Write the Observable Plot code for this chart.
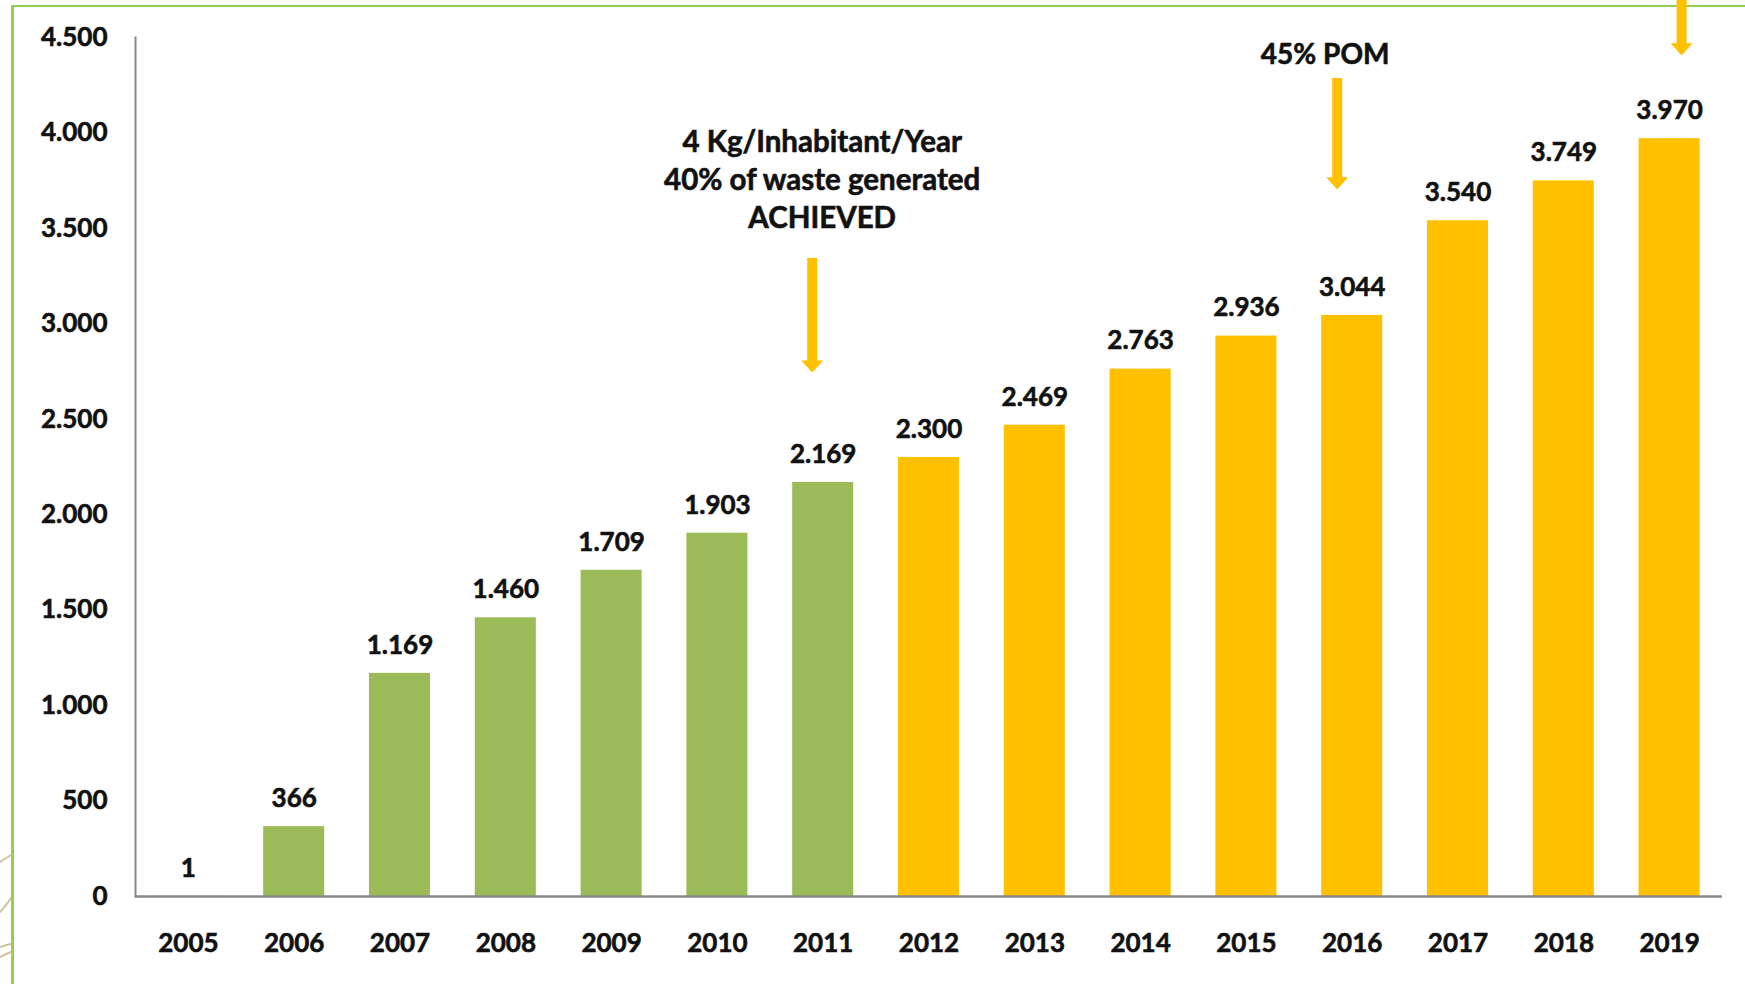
<!DOCTYPE html>
<html>
<head>
<meta charset="utf-8">
<script src="https://cdn.jsdelivr.net/npm/d3@7"></script>
<script src="https://cdn.jsdelivr.net/npm/@observablehq/plot@0.6"></script>
<style>
  html, body { margin: 0; padding: 0; background: #fff; overflow: hidden; width: 1745px; height: 984px; }
  #frame { position: absolute; left: 11px; top: 5px; width: 1760px; height: 1000px;
           border-left: 3px solid #92D050; border-top: 2px solid #92D050; box-sizing: border-box; }
  #deco { position: absolute; left: 0; top: 840px; }
  #chart { position: absolute; left: 0; top: 0; }
  #chart text { stroke: #111; stroke-width: 0.6px; paint-order: stroke; }
</style>
</head>
<body>
<div id="frame"></div>
<svg id="deco" width="12" height="130">
  <g fill="none" stroke="#C9B88E" stroke-width="2" stroke-linecap="round" opacity="0.85">
    <path d="M0 22 Q6 18 11 15"/>
    <path d="M0 72 Q6 66 11 58"/>
    <path d="M0 107 Q6 105 11 104"/>
    <path d="M0 117 Q6 114 11 112"/>
  </g>
</svg>
<div id="chart"></div>
<script>
// ---- data ----
const years  = ["2005","2006","2007","2008","2009","2010","2011","2012","2013","2014","2015","2016","2017","2018","2019"];
const values = [1, 366, 1169, 1460, 1709, 1903, 2169, 2300, 2469, 2763, 2936, 3044, 3540, 3749, 3970];
const phases = ["A","A","A","A","A","A","A","B","B","B","B","B","B","B","B"];
const phaseNames  = ["A", "B"];
const phaseColors = ["#9BBB59", "#FFC000"];
const yTicks = [0, 500, 1000, 1500, 2000, 2500, 3000, 3500, 4000, 4500];

// annotations (value units)
const annoYears  = ["2011", "2016"];
const annoTexts  = ["4 Kg/Inhabitant/Year\n40% of waste generated\nACHIEVED", "45% POM"];
const annoTextY  = [3767, 4427];
const arrowYears = ["2011", "2016", "2019"];
const arrowTop   = [3342, 4285, 4694];
const arrowTip   = [2745, 3704, 4406];

// ---- build ----
const data = years.map((year, i) => ({ year, value: values[i], phase: phases[i] }));
const fmt = d3.formatLocale({ decimal: ",", thousands: ".", grouping: [3], currency: ["", ""] }).format(",");

const arrowHead = {
  draw(ctx, size) {
    const r = Math.sqrt(size / Math.PI);
    ctx.moveTo(-r, -1.1 * r);
    ctx.lineTo(r, -1.1 * r);
    ctx.lineTo(0, 0);
    ctx.closePath();
  }
};

const arrowShift = { "2011": -11, "2016": -15, "2019": 12 };
const textShift  = { "2011": -1,  "2016": -27 };
const textSize   = { "2011": 29.5, "2016": 28 };

const arrowMarks = arrowYears.flatMap((yr, i) => [
  Plot.ruleX([{ x: yr, y1: arrowTop[i], y2: arrowTip[i] }], {
    x: "x", y1: "y1", y2: "y2", stroke: "#FFC000", strokeWidth: 10,
    dx: arrowShift[yr], insetBottom: 11
  }),
  Plot.dot([{ x: yr, y: arrowTip[i] }], {
    x: "x", y: "y", symbol: arrowHead, r: 11, fill: "#FFC000", stroke: null,
    dx: arrowShift[yr]
  })
]);

const annoMarks = annoYears.map((yr, i) =>
  Plot.text([{ x: yr, y: annoTextY[i], t: annoTexts[i] }], {
    x: "x", y: "y", text: "t", dx: textShift[yr], fontSize: textSize[yr],
    lineHeight: 38 / textSize[yr], lineAnchor: "middle", fill: "#111"
  })
);

const chart = Plot.plot({
  width: 1745,
  height: 984,
  marginLeft: 135,
  marginRight: 23,
  marginTop: 37,
  marginBottom: 88,
  style: { background: "transparent", fontFamily: "Lato, 'Open Sans', sans-serif", fontWeight: "bold", fontSize: "26px", color: "#111", overflow: "visible" },
  x: { domain: years, paddingInner: 0.423, paddingOuter: 0.2115, round: false, label: null },
  y: { domain: [0, 4500], label: null },
  color: { domain: phaseNames, range: phaseColors },
  marks: [
    Plot.barY(data, { x: "year", y: "value", fill: "phase" }),
    Plot.frame({ anchor: "left", stroke: "#898989", strokeWidth: 2 }),
    Plot.ruleY([0], { stroke: "#898989", strokeWidth: 2.5 }),
    Plot.axisY({ ticks: yTicks, tickSize: 0, tickPadding: 28, tickFormat: fmt, fontSize: 26, fill: "#111", label: null }),
    Plot.axisX({ tickSize: 0, tickPadding: 37, fontSize: 26, fill: "#111", label: null }),
    Plot.text(data, { x: "year", y: "value", text: d => fmt(d.value), dy: -28, lineAnchor: "middle", fontSize: 26, fill: "#111" }),
    ...arrowMarks,
    ...annoMarks
  ]
});
document.getElementById("chart").append(chart);
</script>
</body>
</html>
